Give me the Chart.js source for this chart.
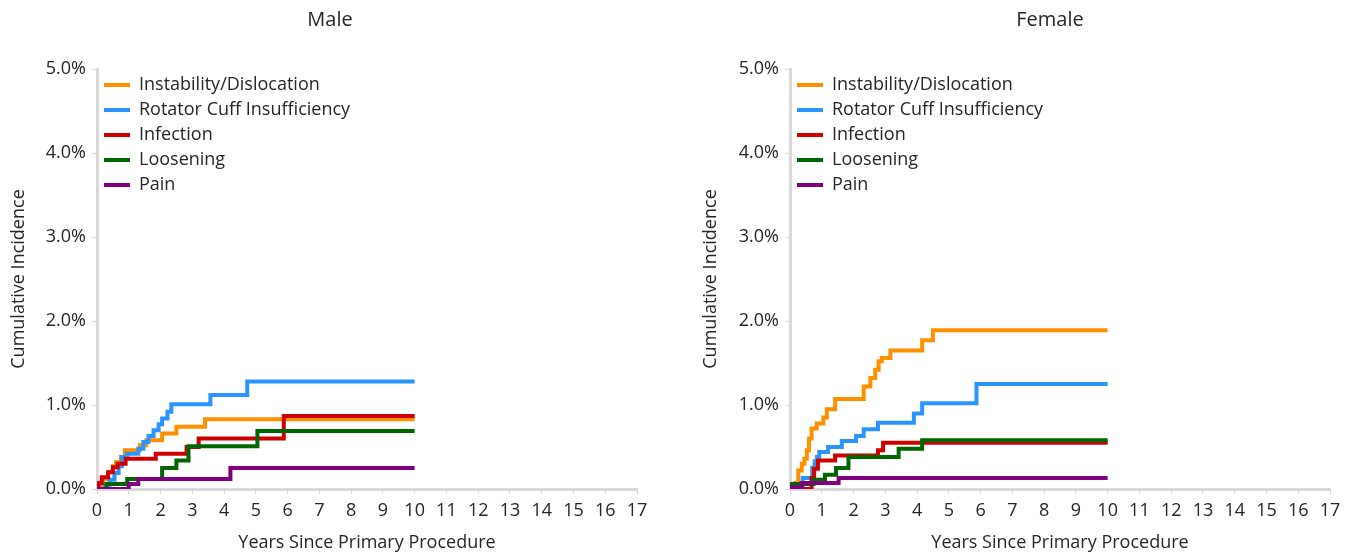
<!DOCTYPE html>
<html>
<head>
<meta charset="utf-8">
<script src="https://cdn.jsdelivr.net/npm/chart.js@4.4.1/dist/chart.umd.min.js"></script>
<style>
    html, body { margin: 0; padding: 0; background: #fff; }
    #wrap { position: relative; width: 1355px; height: 556px; }
    .panel { position: absolute; top: 0; height: 556px; }
    #malePanel { left: 0; width: 690px; }
    #femalePanel { left: 690px; width: 665px; }
</style>
</head>
<body>
<div id="wrap">
    <div class="panel" id="malePanel"><canvas id="maleChart"></canvas></div>
    <div class="panel" id="femalePanel"><canvas id="femaleChart"></canvas></div>
</div>
<script>
// Revision causes (legend order)
const causes = ['Instability/Dislocation', 'Rotator Cuff Insufficiency', 'Infection', 'Loosening', 'Pain'];
const causeColors = ['#ff9100', '#2a95ff', '#d00000', '#006600', '#800080'];
const yTicks = [0, 1, 2, 3, 4, 5];   // percent
const xTicks = [0, 1, 2, 3, 4, 5, 6, 7, 8, 9, 10, 11, 12, 13, 14, 15, 16, 17];

// Male - years since primary / cumulative incidence (%)
const maleInstabilityYears = [0, 0.1, 0.2, 0.35, 0.5, 0.6, 0.75, 0.88, 1.35, 1.55, 2.05, 2.5, 3.4, 10];
const maleInstability      = [0, 0.05, 0.12, 0.2, 0.27, 0.32, 0.38, 0.46, 0.52, 0.58, 0.66, 0.74, 0.83, 0.83];
const maleCuffYears = [0, 0.25, 0.4, 0.55, 0.68, 0.78, 0.95, 1.3, 1.46, 1.62, 1.78, 1.94, 2.05, 2.22, 2.34, 3.57, 4.73, 10];
const maleCuff      = [0, 0.05, 0.11, 0.19, 0.27, 0.38, 0.42, 0.48, 0.56, 0.63, 0.7, 0.77, 0.84, 0.92, 1.01, 1.12, 1.28, 1.28];
const maleInfectionYears = [0, 0.05, 0.15, 0.35, 0.5, 0.65, 0.9, 1.85, 2.82, 3.2, 5.88, 10];
const maleInfection      = [0, 0.07, 0.14, 0.2, 0.26, 0.3, 0.36, 0.42, 0.5, 0.6, 0.87, 0.87];
const maleLooseningYears = [0, 0.3, 0.95, 2.05, 2.5, 2.88, 5.05, 10];
const maleLoosening      = [0, 0.06, 0.12, 0.25, 0.34, 0.51, 0.69, 0.69];
const malePainYears = [0, 1.0, 1.3, 4.2, 10];
const malePain      = [0, 0.06, 0.12, 0.25, 0.25];

// Female
const femaleInstabilityYears = [0, 0.16, 0.26, 0.37, 0.45, 0.53, 0.6, 0.68, 0.84, 1.05, 1.16, 1.42, 2.32, 2.53, 2.68, 2.79, 2.89, 3.16, 4.16, 4.5, 10];
const femaleInstability      = [0, 0.07, 0.22, 0.3, 0.36, 0.46, 0.6, 0.72, 0.78, 0.85, 0.95, 1.07, 1.22, 1.32, 1.42, 1.52, 1.56, 1.65, 1.77, 1.89, 1.89];
const femaleCuffYears = [0, 0.4, 0.7, 0.78, 0.85, 0.92, 1.2, 1.63, 2.08, 2.32, 2.77, 3.9, 4.16, 5.87, 10];
const femaleCuff      = [0, 0.13, 0.25, 0.33, 0.38, 0.44, 0.5, 0.57, 0.63, 0.71, 0.79, 0.9, 1.02, 1.25, 1.25];
const femaleInfectionYears = [0, 0.68, 0.76, 0.88, 1.42, 2.77, 2.93, 10];
const femaleInfection      = [0, 0.13, 0.24, 0.34, 0.4, 0.46, 0.55, 0.55];
const femaleLooseningYears = [0, 0.74, 1.1, 1.45, 1.84, 3.42, 4.16, 10];
const femaleLoosening      = [0.06, 0.11, 0.17, 0.25, 0.38, 0.48, 0.58, 0.58];
const femalePainYears = [0, 0.37, 1.53, 10];
const femalePain      = [0.02, 0.07, 0.13, 0.13];

const FONT = '"Open Sans", "Noto Sans", sans-serif';
const TEXT = '#262626';
const AXIS = '#d9d9d9';

function toPoints(xs, ys) {
    return xs.map((x, i) => ({ x: x, y: ys[i] }));
}

// Title drawn over the panel (Excel centres it on the chart object, not the plot)
// and legend pinned to the top-left corner of the plot area
const panelTitle = {
    id: 'panelTitle',
    afterLayout(chart) {
        const lg = chart.legend;
        const dy = chart.chartArea.top - lg.top;
        lg.top += dy;
        lg.bottom += dy;
    },
    afterDraw(chart, args, opts) {
        const ctx = chart.ctx;
        ctx.save();
        ctx.font = '20px ' + FONT;
        ctx.fillStyle = TEXT;
        ctx.textAlign = 'center';
        ctx.textBaseline = 'middle';
        ctx.fillText(opts.text, opts.x, opts.y);
        ctx.restore();
    }
};

function makeChart(id, title, titleX, series, axisLeft, yTitleGap, padRight) {
    const datasets = series.map((s, i) => ({
        label: causes[i],
        data: toPoints(s[0], s[1]),
        borderColor: causeColors[i],
        backgroundColor: causeColors[i],
        borderWidth: 4,
        pointRadius: 0,
        stepped: 'before',
        order: series.length - i   // later series on top, like Excel
    }));

    return new Chart(document.getElementById(id), {
        type: 'line',
        data: { datasets },
        plugins: [panelTitle],
        options: {
            responsive: true,
            maintainAspectRatio: false,
            animation: false,
            layout: { padding: { top: 69, left: 0, right: padRight, bottom: 2 } },
            plugins: {
                panelTitle: { text: title, x: titleX, y: 20 },
                tooltip: { enabled: false },
                legend: {
                    position: 'chartArea',
                    align: 'start',
                    labels: {
                        usePointStyle: true,
                        pointStyle: 'line',
                        pointStyleWidth: 26,
                        boxHeight: 4,
                        padding: 7,
                        color: TEXT,
                        font: { family: FONT, size: 18 },
                        sort: (a, b) => a.datasetIndex - b.datasetIndex
                    }
                }
            },
            scales: {
                x: {
                    type: 'linear',
                    min: 0,
                    max: 17,
                    afterBuildTicks: (scale) => { scale.ticks = xTicks.map(v => ({ value: v })); },
                    afterFit: (scale) => { scale.height = 65; },
                    border: { color: AXIS, width: 3 },
                    grid: { drawOnChartArea: false, drawTicks: true, tickLength: 5, color: AXIS },
                    ticks: { color: TEXT, font: { family: FONT, size: 18 }, padding: 6, maxRotation: 0 },
                    title: {
                        display: true,
                        text: 'Years Since Primary Procedure',
                        color: TEXT,
                        font: { family: FONT, size: 18 },
                        padding: 0
                    }
                },
                y: {
                    min: 0,
                    max: 5,
                    afterBuildTicks: (scale) => { scale.ticks = yTicks.map(v => ({ value: v })); },
                    afterFit: (scale) => { scale.width = axisLeft; },
                    border: { color: AXIS, width: 3 },
                    grid: { drawOnChartArea: false, drawTicks: true, tickLength: 5, color: AXIS },
                    ticks: {
                        color: TEXT,
                        font: { family: FONT, size: 18 },
                        padding: 6,
                        callback: (v) => v.toFixed(1) + '%'
                    },
                    title: {
                        display: true,
                        text: 'Cumulative Incidence',
                        color: TEXT,
                        font: { family: FONT, size: 18 },
                        padding: { top: yTitleGap, bottom: 0 }
                    }
                }
            }
        }
    });
}

makeChart('maleChart', 'Male', 330, [
    [maleInstabilityYears, maleInstability],
    [maleCuffYears, maleCuff],
    [maleInfectionYears, maleInfection],
    [maleLooseningYears, maleLoosening],
    [malePainYears, malePain]
], 97, 8, 53);

makeChart('femaleChart', 'Female', 360, [
    [femaleInstabilityYears, femaleInstability],
    [femaleCuffYears, femaleCuff],
    [femaleInfectionYears, femaleInfection],
    [femaleLooseningYears, femaleLoosening],
    [femalePainYears, femalePain]
], 100, 10, 25);
</script>
</body>
</html>
